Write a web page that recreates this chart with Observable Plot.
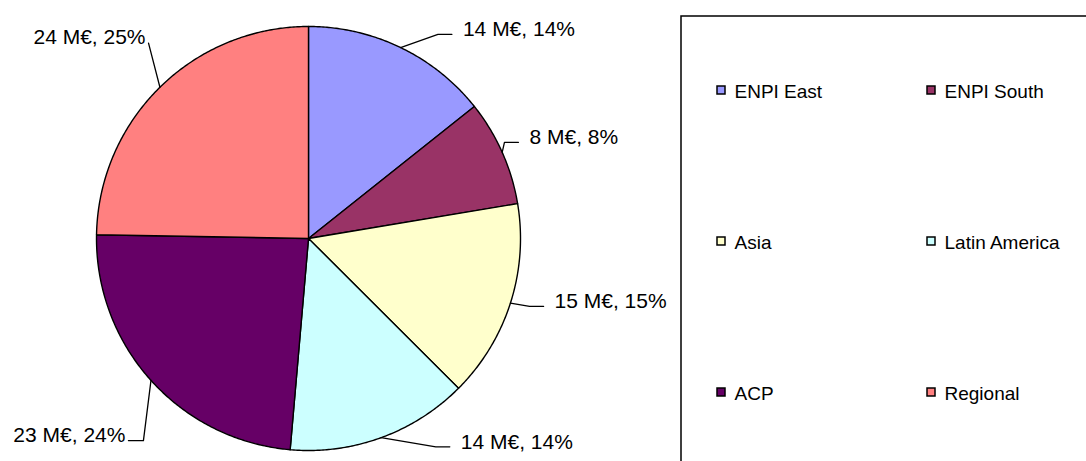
<!DOCTYPE html>
<html>
<head>
<meta charset="utf-8">
<script src="https://cdn.jsdelivr.net/npm/d3@7"></script>
<script src="https://cdn.jsdelivr.net/npm/@observablehq/plot@0.6"></script>
<style>
  html, body { margin: 0; padding: 0; background: #fff; }
  #chart svg { display: block; }
</style>
</head>
<body>
<div id="chart"></div>
<script>
// ---- data ----
const regions = ["ENPI East", "ENPI South", "Asia", "Latin America", "ACP", "Regional"];
const amountsMEUR = [14.0, 7.9, 14.8, 13.6, 23.4, 24.2];
const palette = ["#9999FF", "#993366", "#FFFFCC", "#CCFFFF", "#660066", "#FF8080"];

// ---- layout (label placement as dragged in the original, legend grid) ----
const labelAngleNudge = [10.7, -0.6, -3.4, -16.8, -5.1, 5.5]; // degrees from slice mid-angle
const labelRadius = [260, 243, 254, 254, 269, 259];
const W = 1086, H = 461;
const cx = 308, cy = 238, R = 212;
const legendBox = {x1: 681, y1: 16, x2: W + 20, y2: H + 20};
const legendX0 = 717, legendColGap = 210, legendY0 = 91, legendRowGap = 151;

// ---- geometry ----
const arcs = d3.pie().sort(null).value(d => d)(amountsMEUR);
const total = d3.sum(amountsMEUR);
const polar = (a, r) => [cx + r * Math.sin(a), cy - r * Math.cos(a)];

const slicePts = [];
arcs.forEach((a, i) => {
  slicePts.push({region: regions[i], x: cx, y: cy});
  const n = Math.max(2, Math.ceil((a.endAngle - a.startAngle) / (Math.PI / 360)));
  for (let k = 0; k <= n; k++) {
    const t = a.startAngle + (a.endAngle - a.startAngle) * k / n;
    const [x, y] = polar(t, R);
    slicePts.push({region: regions[i], x, y});
  }
  slicePts.push({region: regions[i], x: cx, y: cy});
});

const fmtV = d3.format(".0f"), fmtP = d3.format(".0%");
const labels = arcs.map((a, i) => {
  const mid = (a.startAngle + a.endAngle) / 2;
  const la = mid + labelAngleNudge[i] * Math.PI / 180;
  const [tx, ty] = polar(la, labelRadius[i]);
  const right = Math.sin(la) > 0;
  return {
    i, mid, tx, ty, right,
    text: `${fmtV(amountsMEUR[i])} M€, ${fmtP(amountsMEUR[i] / total)}`
  };
});

const leaderPts = [];
labels.forEach(l => {
  const [ex, ey] = polar(l.mid, R);
  leaderPts.push({k: l.i, x: ex, y: ey});
  const s = l.right ? -1 : 1;
  const endX = l.tx + s * (l.right ? 11 : 3);
  if (Math.abs(ex - l.tx) > 18) {
    leaderPts.push({k: l.i, x: l.tx + s * (l.right ? 25 : 18), y: l.ty + 5});
    leaderPts.push({k: l.i, x: endX, y: l.ty + 5});
  } else {
    leaderPts.push({k: l.i, x: endX, y: l.ty + 6});
  }
});

const legendItems = regions.map((r, i) => ({
  region: r,
  x: legendX0 + (i % 2) * legendColGap,
  y: legendY0 + Math.floor(i / 2) * legendRowGap
}));

const font = "'Liberation Sans', Arial, Helvetica, sans-serif";

const chart = Plot.plot({
  width: W,
  height: H,
  margin: 0,
  style: {fontFamily: font, background: "#fff", color: "#000"},
  x: {domain: [0, W], range: [0, W], axis: null},
  y: {domain: [0, H], range: [0, H], axis: null},
  color: {domain: regions, range: palette},
  marks: [
    // pie slices
    Plot.line(slicePts, {
      x: "x", y: "y", z: "region", fill: "region",
      stroke: "#000", strokeWidth: 1.4, strokeLinejoin: "round"
    }),
    // leader lines
    Plot.line(leaderPts, {x: "x", y: "y", z: "k", stroke: "#000", strokeWidth: 1.3}),
    // data labels (right side / left side)
    Plot.text(labels.filter(d => d.right), {
      x: "tx", y: "ty", text: "text", textAnchor: "start", fontSize: 21, fill: "#000"
    }),
    Plot.text(labels.filter(d => !d.right), {
      x: "tx", y: "ty", text: "text", textAnchor: "end", fontSize: 21, fill: "#000"
    }),
    // legend box
    Plot.rect([legendBox], {x1: "x1", y1: "y1", x2: "x2", y2: "y2", fill: "none", stroke: "#000", strokeWidth: 1.5}),
    // legend swatches
    Plot.rect(legendItems, {
      x1: d => d.x, x2: d => d.x + 8, y1: d => d.y - 5, y2: d => d.y + 3,
      fill: "region", stroke: "#000", strokeWidth: 1.5
    }),
    Plot.text(legendItems, {
      x: d => d.x + 17, y: "y", text: "region",
      textAnchor: "start", fontSize: 19, fill: "#000"
    })
  ]
});

document.getElementById("chart").appendChild(chart);
</script>
</body>
</html>
